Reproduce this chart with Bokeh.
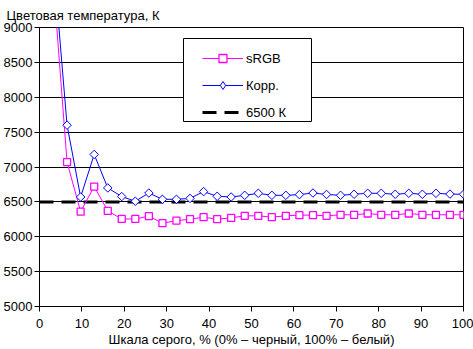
from bokeh.plotting import figure
from bokeh.models import Legend, LegendItem, BoxAnnotation, FixedTicker
from bokeh.embed import file_html
from bokeh.resources import INLINE

# Gray level, %
gray = [3.2, 6.5, 9.7, 12.9, 16.1, 19.4, 22.6, 25.8, 29.0, 32.3, 35.5, 38.7,
        41.9, 45.2, 48.4, 51.6, 54.8, 58.1, 61.3, 64.5, 67.7, 71.0, 74.2, 77.4,
        80.6, 83.9, 87.1, 90.3, 93.5, 96.8, 100.0]
# Colour temperature, K
srgb = [9700, 7070, 6360, 6720, 6370, 6255, 6255, 6295, 6195, 6230, 6252, 6280,
        6253, 6270, 6300, 6300, 6281, 6300, 6310, 6310, 6300, 6315, 6315, 6333,
        6315, 6315, 6333, 6315, 6315, 6315, 6315]
korr = [10000, 7600, 6570, 7180, 6700, 6576, 6509, 6627, 6537, 6537, 6550, 6647,
        6580, 6570, 6594, 6623, 6594, 6594, 6604, 6627, 6606, 6594, 6609, 6623,
        6623, 6609, 6623, 6609, 6623, 6612, 6609]
ref_x = [0, 100]
ref_y = [6500, 6500]

x_ticks = [0, 10, 20, 30, 40, 50, 60, 70, 80, 90, 100]
y_ticks = [5000, 5500, 6000, 6500, 7000, 7500, 8000, 8500, 9000]

FONT = "Liberation Sans"
FS = "13px"

p = figure(width=473, height=349, output_backend="svg", toolbar_location=None,
           x_range=(0, 100), y_range=(5000, 9000),
           min_border_left=38, min_border_right=10, min_border_top=26,
           min_border_bottom=42, background_fill_color="white",
           border_fill_color="white")

p.title.text = "Цветовая температура, К"
p.title.align = "left"
p.title.offset = -33
p.title.text_font = FONT
p.title.text_font_size = FS
p.title.text_font_style = "normal"
p.title.text_color = "black"

p.outline_line_color = "black"
p.outline_line_width = 1

p.xgrid.visible = False
p.ygrid.grid_line_color = "black"
p.ygrid.grid_line_width = 1
p.ygrid.ticker = FixedTicker(ticks=y_ticks)

p.xaxis.ticker = FixedTicker(ticks=x_ticks)
p.yaxis.ticker = FixedTicker(ticks=y_ticks)
for ax in (p.xaxis[0], p.yaxis[0]):
    ax.axis_line_color = "black"
    ax.major_tick_line_color = "black"
    ax.major_tick_out = 5
    ax.major_tick_in = 0
    ax.minor_tick_line_color = None
    ax.major_label_text_font = FONT
    ax.major_label_text_font_size = FS
    ax.major_label_text_color = "black"
    ax.axis_label_text_font = FONT
    ax.axis_label_text_font_size = FS
    ax.axis_label_text_font_style = "normal"
    ax.axis_label_text_color = "black"
p.yaxis.major_label_standoff = 2
p.xaxis.major_label_standoff = 7
p.xaxis.axis_label = "Шкала серого, % (0% – черный, 100% – белый)"
p.xaxis.axis_label_standoff = 1

r_ref = p.line(ref_x, ref_y, line_color="black", line_width=3, line_dash="14 8")
l_srgb = p.line(gray, srgb, line_color="#FF00FF", line_width=1)
l_korr = p.line(gray, korr, line_color="#0000FF", line_width=1)
m_korr = p.scatter(gray, korr, marker="square", angle=0.7853981634, size=6,
                   line_color="#0000FF", fill_color="white", line_width=1)
m_srgb = p.scatter(gray, srgb, marker="square", size=7, line_color="#FF00FF",
                   fill_color="white", line_width=1.3)
# legend-only glyph for the diamond marker (a single undefined point)
nan = float("nan")
k_leg = p.scatter([nan], [nan], marker="diamond", size=10, line_color="#0000FF",
                  fill_color="white", line_width=1)

box = BoxAnnotation(left=144, right=272, top=268, bottom=185,
                    left_units="screen", right_units="screen",
                    top_units="screen", bottom_units="screen",
                    fill_color="white", fill_alpha=1.0,
                    line_color="black", line_width=1, line_alpha=1.0)
p.add_layout(box)

legend = Legend(items=[
    LegendItem(label="sRGB", renderers=[l_srgb, m_srgb]),
    LegendItem(label="Корр.", renderers=[l_korr, k_leg]),
    LegendItem(label="6500 К", renderers=[r_ref]),
], location=(163, 184), orientation="vertical",
   glyph_width=41, glyph_height=20, label_height=20, label_standoff=3,
   padding=5, margin=0, spacing=7,
   border_line_color=None, background_fill_alpha=0,
   label_text_font=FONT, label_text_font_size=FS, label_text_color="black")
p.add_layout(legend)

open("out.html", "w").write(file_html(p, INLINE))
